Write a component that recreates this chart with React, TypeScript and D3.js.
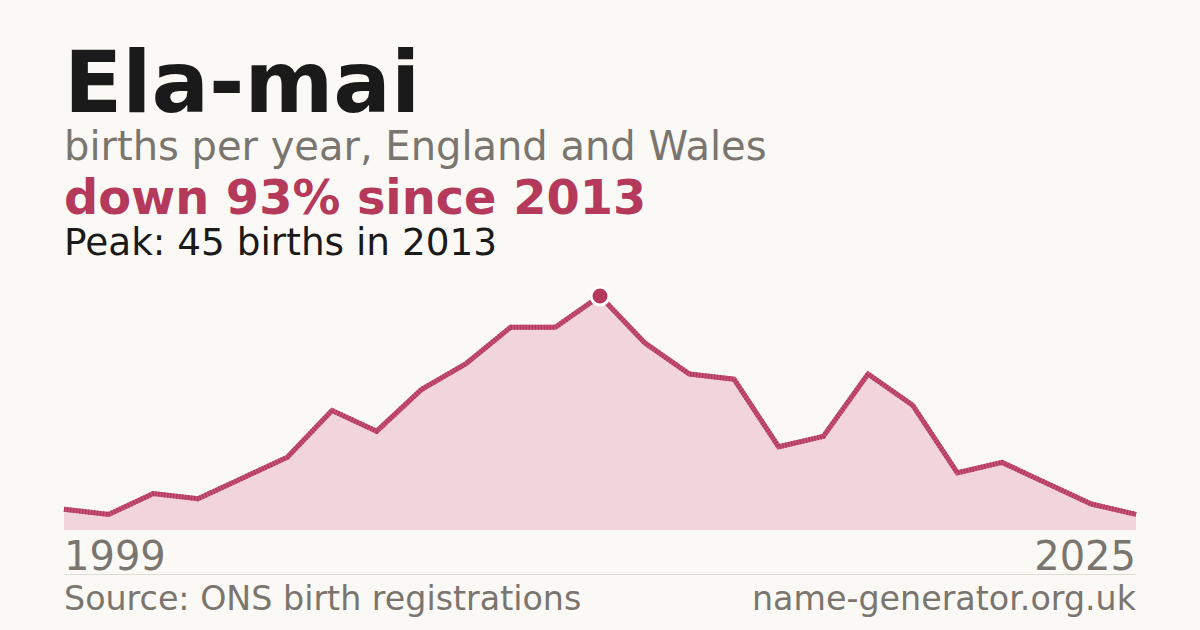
import React from "react";
import * as d3 from "d3";

const years = [1999, 2000, 2001, 2002, 2004, 2005, 2006, 2008, 2009, 2010, 2011, 2012, 2013, 2014, 2015, 2016, 2017, 2018, 2019, 2020, 2021, 2022, 2023, 2024, 2025];
const births = [4, 3, 7, 6, 10, 14, 23, 19, 27, 32, 39, 39, 45, 36, 30, 29, 16, 18, 30, 24, 11, 13, 9, 5, 3];

const title = "Ela-mai";
const subtitle = "births per year, England and Wales";
const headline = "down 93% since 2013";
const peakText = "Peak: 45 births in 2013";
const startLabel = String(years[0]);
const endLabel = String(years[years.length - 1]);
const sourceText = "Source: ONS birth registrations";
const siteText = "name-generator.org.uk";

const W = 1200;
const H = 630;
const FONT = "'DejaVu Sans', sans-serif";
const RED = "#b5395a";
const GRAY = "#7a756e";

export default function App() {
  const idx = births.map((_, i) => i);
  const x = d3.scalePoint<number>().domain(idx).range([64, 1136]);
  const y = d3.scaleLinear().domain([0, 45]).range([530, 296]);

  const line = d3
    .line<number>()
    .x((_, i) => x(i) as number)
    .y((d) => y(d));
  const area = d3
    .area<number>()
    .x((_, i) => x(i) as number)
    .y0(y(0))
    .y1((d) => y(d));

  const peakIdx = births.indexOf(d3.max(births) as number);
  const peakVal = births[peakIdx];

  return (
    <svg
      width={W}
      height={H}
      viewBox={`0 0 ${W} ${H}`}
      style={{ position: "absolute", left: 0, top: 0, display: "block" }}
      fontFamily={FONT}
    >
      <rect x={0} y={0} width={W} height={H} fill="#faf9f5" />
      <text x={64} y={112} fontSize={85.3} fontWeight="bold" fill="#1a1a1a">
        {title}
      </text>
      <text x={64} y={160} fontSize={40} fill={GRAY}>
        {subtitle}
      </text>
      <text x={64} y={214} fontSize={47.8} fontWeight="bold" fill={RED}>
        {headline}
      </text>
      <text x={64} y={255} fontSize={37.4} fill="#1a1a1a">
        {peakText}
      </text>

      <path d={area(births) as string} fill="#f2d5db" />
      <path
        d={line(births) as string}
        fill="none"
        stroke="#c45577"
        strokeWidth={5}
        strokeLinejoin="miter"
      />
      <path
        d={line(births) as string}
        fill="none"
        stroke={RED}
        strokeWidth={5}
        strokeDasharray="1.5 1.5"
        strokeLinejoin="miter"
      />
      <circle
        cx={x(peakIdx) as number}
        cy={y(peakVal)}
        r={9}
        fill={RED}
        stroke="#ffffff"
        strokeWidth={3}
      />

      <text x={64} y={570} fontSize={40} fill={GRAY}>
        {startLabel}
      </text>
      <text x={1136} y={570} fontSize={40} fill={GRAY} textAnchor="end">
        {endLabel}
      </text>
      <line x1={64} x2={1136} y1={574.5} y2={574.5} stroke="#dedbd4" strokeWidth={1} />
      <text x={64} y={610} fontSize={33.3} fill={GRAY}>
        {sourceText}
      </text>
      <text x={1136} y={610} fontSize={33.3} fill={GRAY} textAnchor="end">
        {siteText}
      </text>
    </svg>
  );
}
